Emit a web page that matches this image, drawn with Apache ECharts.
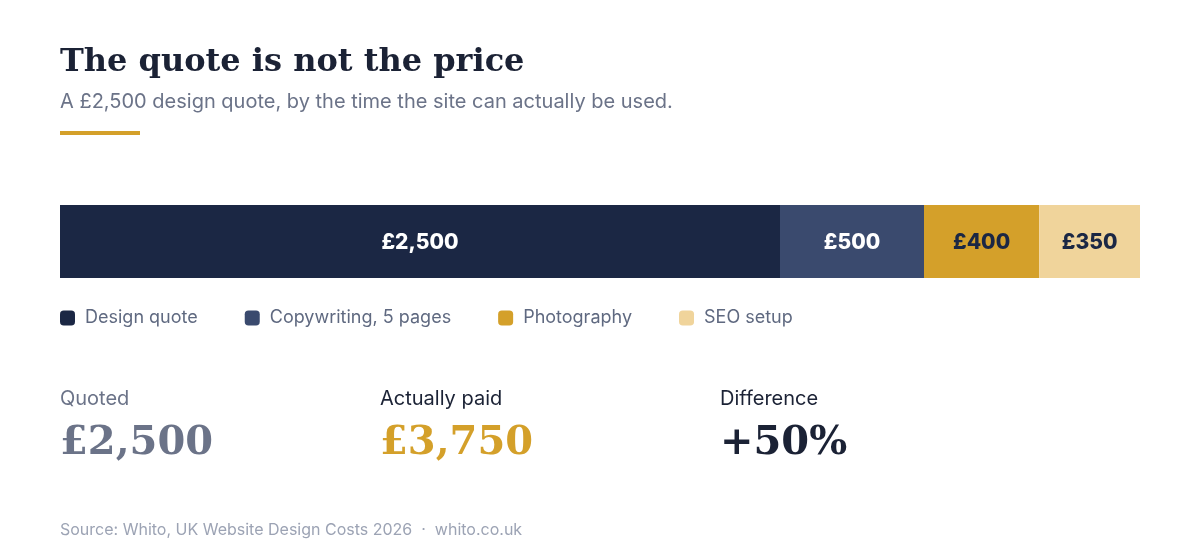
<!DOCTYPE html>
<html><head><meta charset="utf-8">
<script src="https://cdn.jsdelivr.net/npm/echarts@6/dist/echarts.min.js"></script>
<style>html,body{margin:0;padding:0;background:#fff}#c{width:1200px;height:560px}</style>
</head><body><div id="c"></div>
<script>
const categories = ['Cost'];
const seriesNames = ['Design quote', 'Copywriting, 5 pages', 'Photography', 'SEO setup'];
const seriesValues = [2500, 500, 400, 350];
const seriesColors = ['#1b2744', '#3a4a6e', '#d4a02a', '#f0d49b'];
const labelColors = ['#ffffff', '#ffffff', '#1b2744', '#1b2744'];

const quoted = seriesValues[0];
const paid = seriesValues.reduce((a, b) => a + b, 0);
const diffPct = Math.round((paid - quoted) / quoted * 100);
const fmt = v => '£' + v.toLocaleString('en-GB');

const SANS = 'Inter, "Noto Sans", sans-serif';
const SERIF = '"DejaVu Serif", "Liberation Serif", serif';

const chart = echarts.init(document.getElementById('c'), null, {renderer: 'canvas'});
chart.setOption({
  animation: false,
  backgroundColor: '#ffffff',
  grid: {left: 60, right: 60, top: 205, height: 73},
  xAxis: {type: 'value', min: 0, max: paid, show: false},
  yAxis: {type: 'category', data: categories, show: false},
  legend: {
    left: 60, top: 309, padding: 0, itemWidth: 15, itemHeight: 15, itemGap: 47,
    icon: 'roundRect',
    data: seriesNames,
    textStyle: {fontFamily: SANS, fontSize: 18, color: '#5f6980', padding: [0, 0, 0, 5]}
  },
  series: seriesNames.map((n, i) => ({
    name: n, type: 'bar', stack: 'total', barWidth: 73,
    data: [seriesValues[i]],
    itemStyle: {color: seriesColors[i]},
    label: {show: true, position: 'inside', offset: [0, 1], formatter: p => fmt(p.value),
      fontFamily: SANS, fontSize: 21, fontWeight: 800, color: labelColors[i]}
  })),
  graphic: [
    {type: 'text', left: 60, top: 47, style: {text: 'The quote is not the price', font: 'bold 32px ' + SERIF, fill: '#1b2235'}},
    {type: 'text', left: 60, top: 92, style: {text: 'A £2,500 design quote, by the time the site can actually be used.', font: '20px ' + SANS, fill: '#6b7388'}},
    {type: 'rect', shape: {x: 60, y: 131, width: 80, height: 4}, style: {fill: '#d4a02a'}},
    {type: 'text', left: 60, top: 389, style: {text: 'Quoted', font: '20px ' + SANS, fill: '#6b7388'}},
    {type: 'text', left: 60, top: 424, style: {text: fmt(quoted), font: 'bold 40px ' + SERIF, fill: '#6b7388'}},
    {type: 'text', left: 380, top: 389, style: {text: 'Actually paid', font: '20px ' + SANS, fill: '#1b2235'}},
    {type: 'text', left: 380, top: 424, style: {text: fmt(paid), font: 'bold 40px ' + SERIF, fill: '#d4a02a'}},
    {type: 'text', left: 720, top: 389, style: {text: 'Difference', font: '20px ' + SANS, fill: '#1b2235'}},
    {type: 'text', left: 720, top: 424, style: {text: '+' + diffPct + '%', font: 'bold 40px ' + SERIF, fill: '#1b2235'}},
    {type: 'text', left: 60, top: 522, style: {text: 'Source: Whito, UK Website Design Costs 2026  ·  whito.co.uk', font: '16px ' + SANS, fill: '#9ca3b4'}}
  ]
});
</script></body></html>
